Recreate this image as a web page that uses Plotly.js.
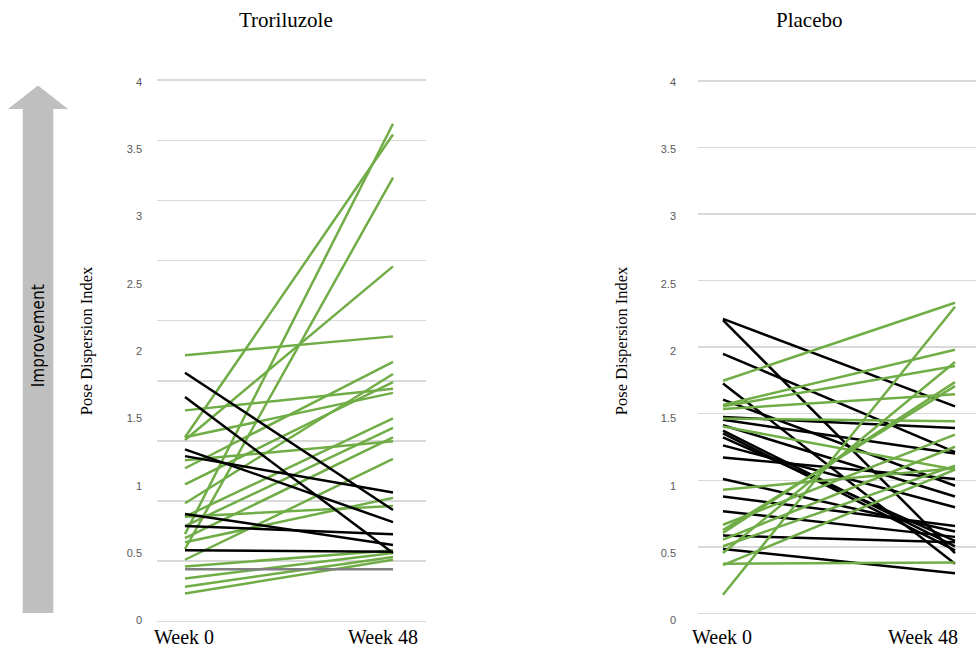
<!DOCTYPE html>
<html>
<head>
<meta charset="utf-8">
<script src="https://cdn.plot.ly/plotly-3.0.1.min.js"></script>
<style>html,body{margin:0;padding:0;background:#fff;}#chart{width:976px;height:650px;}</style>
</head>
<body>
<div id="chart"></div>
<script>
// ---- data ----
const categories = ['Week 0', 'Week 48'];
const panelTitles = ['Troriluzole', 'Placebo'];
const yAxisTitle = 'Pose Dispersion Index';
const arrowLabel = 'Improvement';

const troriGreenWeek0  = [1.97, 1.36, 0.64, 0.53, 1.34, 1.56, 1.36, 1.19, 1.13, 1.01, 0.87, 0.77, 0.70, 0.61, 0.58, 0.45, 0.77, 0.40, 0.31, 0.25, 0.20];
const troriGreenWeek48 = [2.11, 3.61, 3.69, 3.29, 2.63, 1.72, 1.69, 1.33, 1.92, 1.77, 1.83, 1.50, 1.43, 1.36, 0.91, 1.20, 0.85, 0.52, 0.50, 0.47, 0.45];
const troriBlackWeek0  = [1.84, 1.66, 1.27, 1.22, 0.79, 0.70, 0.52];
const troriBlackWeek48 = [0.82, 0.50, 0.73, 0.95, 0.56, 0.64, 0.51];
const troriGreyWeek0   = [0.38];
const troriGreyWeek48  = [0.38];

const placeboGreenWeek0  = [1.78, 0.19, 1.60, 1.59, 1.57, 1.50, 1.44, 0.97, 0.50, 0.65, 0.67, 0.71, 0.60, 0.55, 0.41, 0.42];
const placeboGreenWeek48 = [2.36, 2.33, 2.01, 1.89, 1.68, 1.48, 1.12, 1.13, 1.92, 1.77, 1.74, 1.38, 1.29, 1.15, 1.12, 0.43];
const placeboBlackWeek0  = [2.24, 2.23, 1.98, 1.76, 1.64, 1.51, 1.49, 1.45, 1.41, 1.39, 1.36, 1.30, 1.21, 1.05, 0.92, 0.81, 0.63, 0.53];
const placeboBlackWeek48 = [1.59, 0.50, 1.25, 0.42, 1.00, 1.43, 1.24, 0.92, 0.55, 0.52, 0.59, 0.84, 1.05, 0.66, 0.70, 0.62, 0.58, 0.35];

// ---- styling / geometry ----
const W = 976, H = 650;
const GREEN = '#70AD47', BLACK = '#000000', GREY = '#7F7F7F';
const Y_RANGE = [-0.02, 4.03];
const TOP = 78, BOTTOM = 27.3;
const plotH = H - TOP - BOTTOM;
function px2x(p){ return p / W; }
function py2y(p){ return (H - BOTTOM - p) / plotH; }

const traces = [];
function addLines(w0, w48, color, xa, ya, width) {
  for (let i = 0; i < w0.length; i++) {
    traces.push({
      type: 'scatter', mode: 'lines', x: categories, y: [w0[i], w48[i]],
      xaxis: xa, yaxis: ya, line: {color: color, width: width},
      hoverinfo: 'y', showlegend: false
    });
  }
}
addLines(troriGreenWeek0, troriGreenWeek48, GREEN, 'x', 'y', 2.5);
addLines(troriGreyWeek0, troriGreyWeek48, GREY, 'x', 'y', 2.5);
addLines(troriBlackWeek0, troriBlackWeek48, BLACK, 'x', 'y', 2.5);
addLines(placeboBlackWeek0, placeboBlackWeek48, BLACK, 'x2', 'y2', 2.5);
addLines(placeboGreenWeek0, placeboGreenWeek48, GREEN, 'x2', 'y2', 2.5);

// empty traces to register the label / grid overlay axes
traces.push({type:'scatter', mode:'lines', x: categories, y:[null,null], xaxis:'x3', yaxis:'y3', showlegend:false, hoverinfo:'skip'});
traces.push({type:'scatter', mode:'lines', x: categories, y:[null,null], xaxis:'x4', yaxis:'y4', showlegend:false, hoverinfo:'skip'});

const tickFont = {family: 'Liberation Sans, Arial, sans-serif', size: 11, color: '#595959'};
const weekFont = {family: 'Liberation Serif, Times New Roman, serif', size: 20, color: '#000'};

function dataY(domainStandoff){
  return {range: Y_RANGE, autorange: false, showgrid: false, zeroline: false, showline: false,
    dtick: 0.5, tick0: 0, tickfont: tickFont, ticks: '', ticklabelstandoff: domainStandoff, fixedrange: true};
}
// left: 10 grid lines spaced 0.4468 label-units, first at -0.0074
const gL = [ (Y_RANGE[0] + 0.0074) / 0.4468, (Y_RANGE[1] + 0.0074) / 0.4468 ];
// right: grid lines at 0.052 + 0.98875*g
const gR = [ (Y_RANGE[0] - 0.052) / 0.98875, (Y_RANGE[1] - 0.052) / 0.98875 ];

const leftDom = [157, 426], rightDom = [698, 976];
function catRange(dom, p0, p1){ const s = p1 - p0; return [(dom[0]-p0)/s, 1 + (dom[1]-p1)/s]; }

const layout = {
  width: W, height: H,
  margin: {l: 0, r: 0, t: TOP, b: BOTTOM, pad: 0},
  paper_bgcolor: '#fff', plot_bgcolor: 'rgba(0,0,0,0)',
  showlegend: false,
  font: {family: 'Liberation Serif, serif'},
  xaxis:  {domain: [px2x(leftDom[0]), px2x(leftDom[1])], type: 'category', range: catRange(leftDom, 185, 393), autorange: false,
           showgrid: false, zeroline: false, showline: false, showticklabels: false, ticks: '', anchor: 'y', fixedrange: true},
  yaxis:  Object.assign(dataY(14), {anchor: 'x'}),
  xaxis2: {domain: [px2x(rightDom[0]), 1], type: 'category', range: catRange(rightDom, 723, 955), autorange: false,
           showgrid: false, zeroline: false, showline: false, showticklabels: false, ticks: '', anchor: 'y2', fixedrange: true},
  yaxis2: Object.assign(dataY(21), {anchor: 'x2'}),
  xaxis3: {overlaying: 'x', type: 'category', range: catRange(leftDom, 184, 383), autorange: false, anchor: 'y3',
           showgrid: false, zeroline: false, showline: false, ticks: '', tickfont: weekFont, fixedrange: true},
  yaxis3: {overlaying: 'y', range: gL, autorange: false, dtick: 1, tick0: 0, showgrid: true, gridcolor: '#D9D9D9', gridwidth: 1.5,
           zeroline: false, showline: false, showticklabels: false, ticks: '', anchor: 'x3', fixedrange: true},
  xaxis4: {overlaying: 'x2', type: 'category', range: catRange(rightDom, 722, 923), autorange: false, anchor: 'y4',
           showgrid: false, zeroline: false, showline: false, ticks: '', tickfont: weekFont, fixedrange: true},
  yaxis4: {overlaying: 'y2', range: gR, autorange: false, dtick: 0.5, tick0: 0, showgrid: true, gridcolor: '#D9D9D9', gridwidth: 1.5,
           zeroline: false, showline: false, showticklabels: false, ticks: '', anchor: 'x4', fixedrange: true},
  annotations: [
    {text: panelTitles[0], xref: 'paper', yref: 'paper', x: px2x(286), y: py2y(20), showarrow: false,
     xanchor: 'center', yanchor: 'middle', font: {family: 'Liberation Serif, serif', size: 21, color: '#000'}},
    {text: panelTitles[1], xref: 'paper', yref: 'paper', x: px2x(809), y: py2y(20), showarrow: false,
     xanchor: 'center', yanchor: 'middle', font: {family: 'Liberation Serif, serif', size: 21, color: '#000'}},
    {text: yAxisTitle, xref: 'paper', yref: 'paper', x: px2x(86), y: py2y(341), showarrow: false, textangle: -90,
     xanchor: 'center', yanchor: 'middle', font: {family: 'Liberation Serif, serif', size: 16.5, color: '#000'}},
    {text: yAxisTitle, xref: 'paper', yref: 'paper', x: px2x(621), y: py2y(341), showarrow: false, textangle: -90,
     xanchor: 'center', yanchor: 'middle', font: {family: 'Liberation Serif, serif', size: 16.5, color: '#000'}},
    {text: arrowLabel, xref: 'paper', yref: 'paper', x: px2x(38), y: py2y(336), showarrow: false, textangle: -90,
     xanchor: 'center', yanchor: 'middle', font: {family: 'Liberation Sans Narrow, DejaVu Sans Condensed, Liberation Sans, sans-serif', size: 17, color: '#000'}}
  ],
  shapes: [
    {type: 'path', xref: 'paper', yref: 'paper', layer: 'below', fillcolor: '#BFBFBF', line: {width: 0},
     path: 'M ' + px2x(22.7) + ' ' + py2y(612.7) +
           ' L ' + px2x(53.3) + ' ' + py2y(612.7) +
           ' L ' + px2x(53.3) + ' ' + py2y(109) +
           ' L ' + px2x(68) + ' ' + py2y(109) +
           ' L ' + px2x(38) + ' ' + py2y(85.5) +
           ' L ' + px2x(8) + ' ' + py2y(109) +
           ' L ' + px2x(22.7) + ' ' + py2y(109) + ' Z'}
  ]
};

Plotly.newPlot('chart', traces, layout, {displayModeBar: false, staticPlot: true});
</script>
</body>
</html>
